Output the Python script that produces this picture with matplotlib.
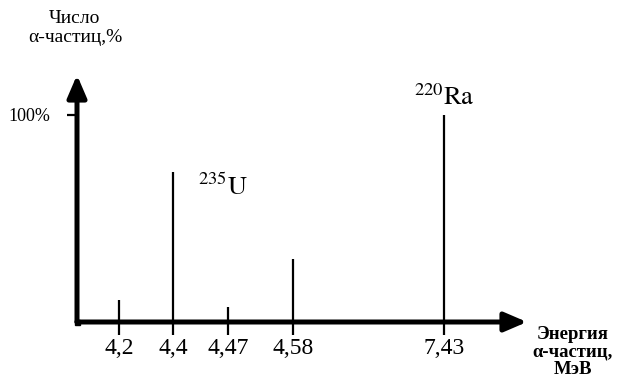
import matplotlib
matplotlib.use("Agg")
import matplotlib.pyplot as plt

plt.rcParams["font.family"] = ["Liberation Serif", "DejaVu Serif"]
plt.rcParams["mathtext.fontset"] = "stix"

# данные спектра (ось энергий схематична, позиции не пропорциональны)
energy_labels = ["4,2", "4,4", "4,47", "4,58", "7,43"]
x_pos = [0.42, 0.96, 1.51, 2.16, 3.67]
intensity = [10.5, 72.5, 7.2, 30.4, 100.0]

W, H = 621, 383
fig = plt.figure(figsize=(W / 100, H / 100), dpi=100, facecolor="white")
ax = fig.add_axes([77 / W, (H - 322) / H, 450 / W, (322 - 75) / H])
ax.set_xlim(0, 4.5)
ax.set_ylim(0, 119.3)
for s in ax.spines.values():
    s.set_visible(False)

# линии спектра
ax.vlines(x_pos, 0, intensity, color="black", linewidth=1.6)

# оси со стрелками
arrow = dict(arrowstyle="-|>,head_length=1.35,head_width=0.58", lw=3.6,
             color="black", shrinkA=0, shrinkB=0, mutation_scale=10)
ax.annotate("", xy=(1, 0), xytext=(0, 0), xycoords="axes fraction", arrowprops=arrow)
ax.annotate("", xy=(0, 1), xytext=(0, 0), xycoords="axes fraction", arrowprops=arrow)
ax.plot([0], [0], marker="s", markersize=3.6, color="black",
        transform=ax.transAxes, clip_on=False)

# деления
ax.set_xticks(x_pos, labels=energy_labels)
ax.tick_params(axis="x", length=9.5, width=1.6, direction="out", pad=2,
               labelsize=17, colors="black")
ax.set_yticks([100], labels=["100%"])
ax.tick_params(axis="y", length=7, width=1.6, direction="out", pad=12,
               labelsize=13, colors="black")

# подписи осей
fig.text(75 / W, 1 - 28 / H, "Число\nα-частиц,%", ha="center", va="center",
         fontsize=14, linespacing=1.1)
fig.text(573 / W, 1 - 352 / H, "Энергия\nα-частиц,\nМэВ", ha="center", va="center",
         fontsize=13.5, fontweight="bold", linespacing=1.05)

# изотопы
fig.text(198 / W, 1 - 187 / H, r"$^{235}\mathrm{U}$", ha="left", va="center", fontsize=19)
fig.text(414 / W, 1 - 97 / H, r"$^{220}\mathrm{Ra}$", ha="left", va="center", fontsize=19)

fig.savefig("out.png", dpi=100, facecolor="white")
